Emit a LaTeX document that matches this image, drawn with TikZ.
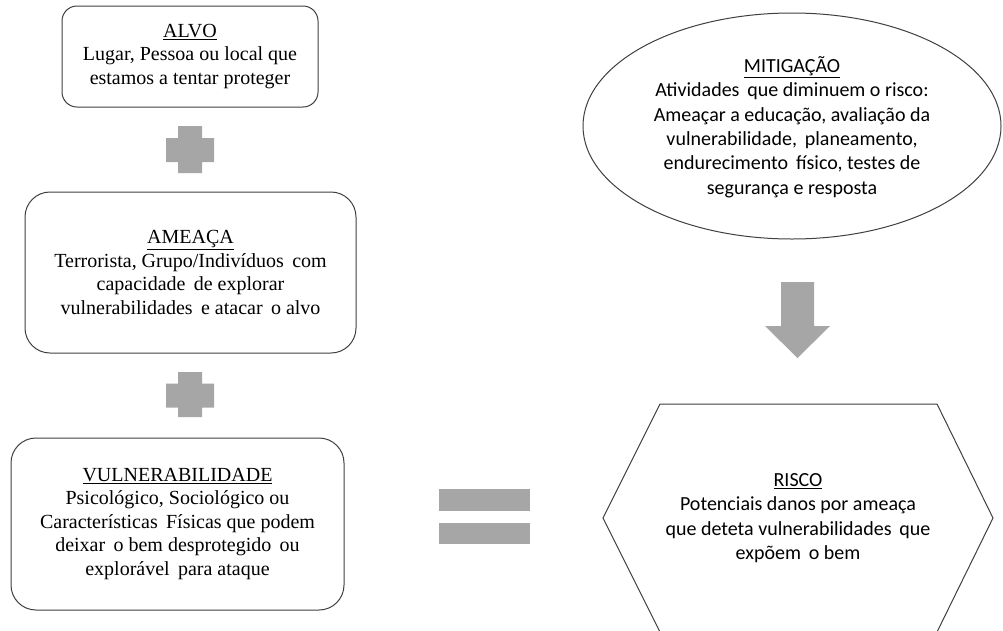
\documentclass[tikz,border=0pt]{standalone}
\usepackage{fontspec}
\usetikzlibrary{shapes.geometric}
\newfontfamily\timesfont{Liberation Serif}
\newfontfamily\califont{Carlito}
\tikzset{
  box/.style={draw=black!75, line width=1pt, fill=white, align=center, inner sep=0pt,
    font=\timesfont\fontsize{20}{23.5}\selectfont},
  sym/.style={fill=black!35, draw=none},
  caltext/.style={align=center, inner sep=0pt, font=\califont\fontsize{20}{24.4}\selectfont},
  outline/.style={draw=black!75, line width=1pt}
}
\begin{document}
\begin{tikzpicture}[x=1pt,y=-1pt]
\useasboundingbox[fill=white] (0,0) rectangle (1003,630);

% left column
\node[box, rounded corners=15pt, minimum width=256pt, minimum height=101pt] (alvo) at (190,56.5)
  {\underline{ALVO}\\Lugar, Pessoa ou local que\\estamos a tentar proteger};
\node[box, rounded corners=25pt, minimum width=331pt, minimum height=161pt] (ameaca) at (190.5,272.5)
  {\underline{AMEAÇA}\\Terrorista, Grupo/Indivíduos\, com\\capacidade\, de explorar\\vulnerabilidades\, e atacar\, o alvo};
\node[box, rounded corners=25pt, minimum width=333pt, minimum height=172pt] (vuln) at (177.5,524)
  {\underline{VULNERABILIDADE}\\Psicológico, Sociológico ou\\Características\, Físicas que podem\\deixar\, o bem desprotegido\, ou\\explorável\, para ataque};

% plus signs
\fill[sym] (178,126) -- (202,126) -- (202,138) -- (214,138) -- (214,162) -- (202,162) -- (202,173)
  -- (178,173) -- (178,162) -- (166,162) -- (166,138) -- (178,138) -- cycle;
\fill[sym] (178,372) -- (202,372) -- (202,383.5) -- (214,383.5) -- (214,407.5) -- (202,407.5) -- (202,417)
  -- (178,417) -- (178,407.5) -- (166,407.5) -- (166,383.5) -- (178,383.5) -- cycle;

% equals sign
\fill[sym] (439,489) rectangle (530,511);
\fill[sym] (439,523) rectangle (530,544);

% mitigation ellipse
\node[ellipse, outline, minimum width=418pt, minimum height=226pt, inner sep=0pt] (mit) at (792,126) {};
\node[caltext] (mittxt) at (792,127)
  {\underline{MITIGAÇÃO}\\Atividades\, que diminuem o risco:\\Ameaçar a educação, avaliação da\\vulnerabilidade,\, planeamento,\\endurecimento\, físico, testes de\\segurança e resposta};

% down arrow
\fill[sym] (781,282) -- (814,282) -- (814,326) -- (830,326) -- (797.5,358) -- (765,326) -- (781,326) -- cycle;

% risk hexagon
\coordinate (h1) at (660,404);
\coordinate (h2) at (937,404);
\coordinate (h3) at (993,518);
\coordinate (h4) at (937,632);
\coordinate (h5) at (660,632);
\coordinate (h6) at (603,518);
\draw[outline, line join=miter] (h1) -- (h2) -- (h3) -- (h4) -- (h5) -- (h6) -- cycle;
\node[caltext] (risco) at (798,518)
  {\underline{RISCO}\\Potenciais danos por ameaça\\que deteta vulnerabilidades\, que\\expõem\, o bem};
\end{tikzpicture}
\end{document}
